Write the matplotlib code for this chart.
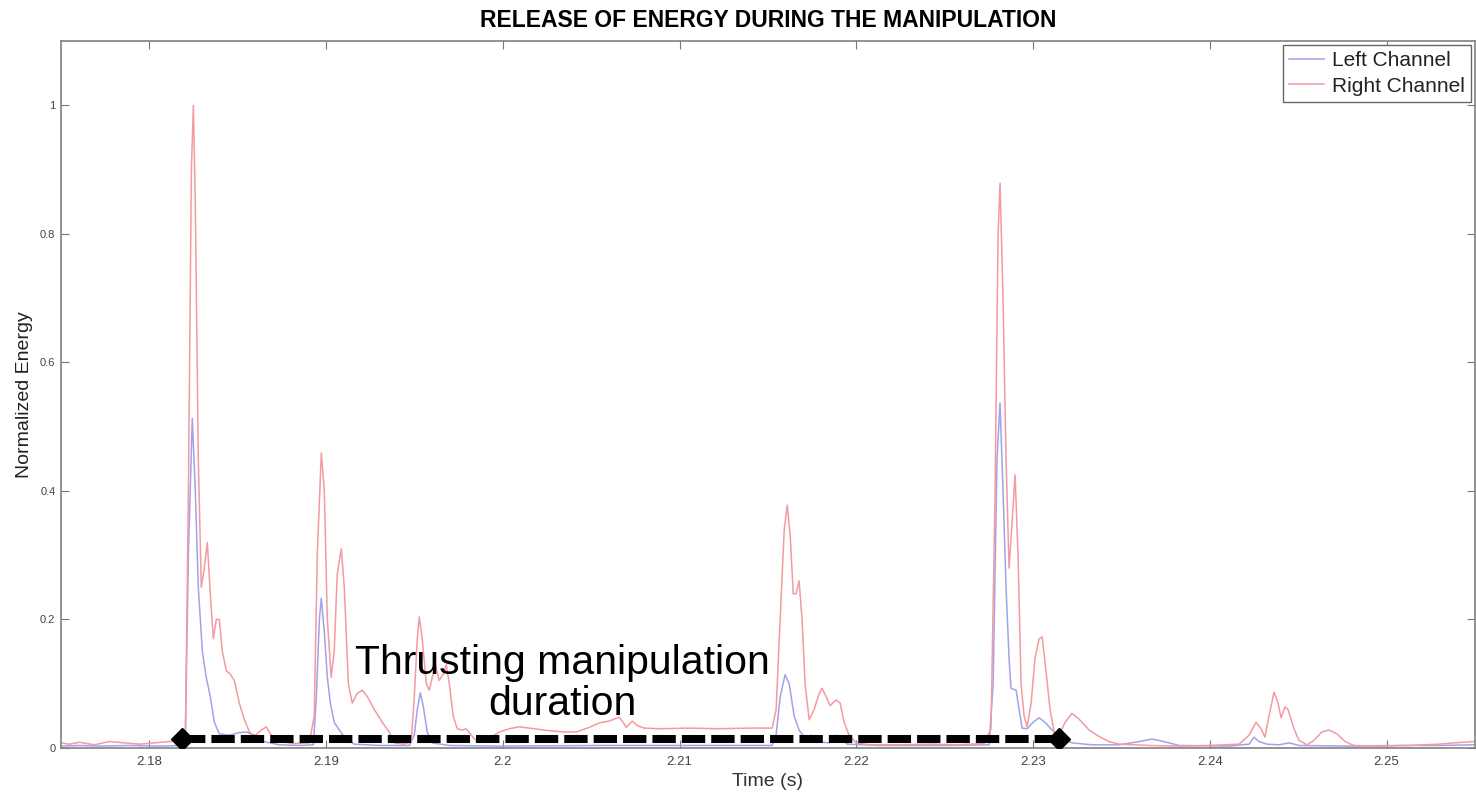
import numpy as np
import matplotlib
matplotlib.use("Agg")
import matplotlib.pyplot as plt

plt.rcParams['font.family'] = ['Liberation Sans', 'DejaVu Sans']

# Right channel (red)
right_t = [2.17497, 2.17548, 2.17604, 2.17689, 2.17774, 2.17859, 2.17943, 2.18028,
           2.18113, 2.18181, 2.18204, 2.18221, 2.18238, 2.18249, 2.18260, 2.18277,
           2.18294, 2.18311, 2.18328, 2.18345, 2.18362, 2.18379, 2.18396, 2.18413,
           2.18436, 2.18458, 2.18481, 2.18509, 2.18537, 2.18566, 2.18594, 2.18633,
           2.18662, 2.18690, 2.18735, 2.18820, 2.18905, 2.18933, 2.18950, 2.18973,
           2.18990, 2.19007, 2.19029, 2.19046, 2.19063, 2.19086, 2.19103, 2.19126,
           2.19148, 2.19176, 2.19205, 2.19233, 2.19273, 2.19318, 2.19357, 2.19386,
           2.19442, 2.19482, 2.19499, 2.19516, 2.19527, 2.19544, 2.19567, 2.19584,
           2.19601, 2.19618, 2.19640, 2.19663, 2.19680, 2.19697, 2.19719, 2.19742,
           2.19770, 2.19793, 2.19821, 2.19855, 2.19923, 2.19980, 2.20036, 2.20093,
           2.20178, 2.20262, 2.20347, 2.20415, 2.20489, 2.20545, 2.20602, 2.20658,
           2.20681, 2.20698, 2.20732, 2.20760, 2.20800, 2.20885, 2.21054, 2.21224,
           2.21394, 2.21524, 2.21546, 2.21569, 2.21592, 2.21609, 2.21626, 2.21643,
           2.21659, 2.21676, 2.21693, 2.21710, 2.21733, 2.21761, 2.21790, 2.21806,
           2.21829, 2.21852, 2.21886, 2.21908, 2.21931, 2.21959, 2.21999, 2.22072,
           2.22242, 2.22412, 2.22581, 2.22723, 2.22762, 2.22785, 2.22802, 2.22813,
           2.22830, 2.22847, 2.22864, 2.22881, 2.22898, 2.22915, 2.22932, 2.22949,
           2.22966, 2.22989, 2.23011, 2.23034, 2.23051, 2.23073, 2.23096, 2.23119,
           2.23147, 2.23181, 2.23220, 2.23260, 2.23317, 2.23373, 2.23430, 2.23486,
           2.23656, 2.23826, 2.23995, 2.24165, 2.24222, 2.24261, 2.24290, 2.24312,
           2.24335, 2.24363, 2.24386, 2.24403, 2.24425, 2.24442, 2.24476, 2.24504,
           2.24550, 2.24589, 2.24634, 2.24674, 2.24719, 2.24765, 2.24815, 2.24957,
           2.25127, 2.25296, 2.25381, 2.25494]
right_e = [0.008, 0.006, 0.009, 0.005, 0.010, 0.008, 0.006, 0.008,
           0.010, 0.012, 0.020, 0.400, 0.900, 1.000, 0.850, 0.450,
           0.250, 0.280, 0.320, 0.240, 0.170, 0.200, 0.200, 0.150,
           0.120, 0.115, 0.105, 0.070, 0.045, 0.025, 0.018, 0.028,
           0.033, 0.020, 0.010, 0.007, 0.008, 0.050, 0.300, 0.459,
           0.400, 0.200, 0.110, 0.150, 0.270, 0.310, 0.250, 0.100,
           0.070, 0.085, 0.090, 0.080, 0.060, 0.040, 0.025, 0.008,
           0.006, 0.010, 0.080, 0.170, 0.204, 0.170, 0.100, 0.090,
           0.110, 0.130, 0.105, 0.115, 0.130, 0.100, 0.050, 0.030,
           0.028, 0.030, 0.020, 0.010, 0.015, 0.025, 0.030, 0.033,
           0.030, 0.027, 0.025, 0.025, 0.032, 0.039, 0.042, 0.048,
           0.040, 0.032, 0.042, 0.035, 0.031, 0.030, 0.031, 0.030,
           0.031, 0.031, 0.060, 0.200, 0.340, 0.378, 0.330, 0.240,
           0.240, 0.260, 0.200, 0.100, 0.044, 0.060, 0.085, 0.093,
           0.080, 0.066, 0.075, 0.070, 0.040, 0.020, 0.008, 0.005,
           0.005, 0.006, 0.005, 0.007, 0.030, 0.400, 0.800, 0.879,
           0.700, 0.450, 0.280, 0.350, 0.425, 0.300, 0.100, 0.050,
           0.033, 0.070, 0.140, 0.170, 0.173, 0.120, 0.060, 0.025,
           0.020, 0.040, 0.054, 0.045, 0.028, 0.018, 0.010, 0.006,
           0.004, 0.003, 0.004, 0.006, 0.020, 0.040, 0.030, 0.017,
           0.050, 0.087, 0.070, 0.047, 0.064, 0.060, 0.030, 0.012,
           0.005, 0.012, 0.025, 0.028, 0.022, 0.010, 0.004, 0.003,
           0.004, 0.006, 0.008, 0.010]

# Left channel (blue)
left_t = [2.17497, 2.17604, 2.17717, 2.17887, 2.18057, 2.18187, 2.18204, 2.18221,
          2.18243, 2.18260, 2.18277, 2.18300, 2.18322, 2.18345, 2.18368, 2.18396,
          2.18452, 2.18509, 2.18549, 2.18594, 2.18650, 2.18735, 2.18848, 2.18928,
          2.18945, 2.18962, 2.18973, 2.18990, 2.19007, 2.19024, 2.19046, 2.19075,
          2.19109, 2.19159, 2.19301, 2.19471, 2.19499, 2.19516, 2.19533, 2.19550,
          2.19572, 2.19601, 2.19697, 2.19980, 2.20545, 2.21111, 2.21524, 2.21546,
          2.21569, 2.21597, 2.21620, 2.21648, 2.21676, 2.21710, 2.21744, 2.21778,
          2.21846, 2.21891, 2.21914, 2.21948, 2.22129, 2.22525, 2.22751, 2.22774,
          2.22796, 2.22813, 2.22830, 2.22847, 2.22864, 2.22875, 2.22904, 2.22921,
          2.22938, 2.22966, 2.23000, 2.23034, 2.23068, 2.23107, 2.23164, 2.23220,
          2.23333, 2.23486, 2.23599, 2.23673, 2.23741, 2.23826, 2.24108, 2.24222,
          2.24250, 2.24278, 2.24324, 2.24391, 2.24448, 2.24504, 2.24787, 2.25070,
          2.25296, 2.25494]
left_e = [0.003, 0.004, 0.003, 0.004, 0.003, 0.004, 0.020, 0.300,
          0.513, 0.400, 0.250, 0.150, 0.110, 0.080, 0.040, 0.022,
          0.020, 0.024, 0.025, 0.020, 0.010, 0.005, 0.004, 0.005,
          0.080, 0.200, 0.233, 0.180, 0.110, 0.070, 0.040, 0.028,
          0.015, 0.006, 0.004, 0.004, 0.020, 0.060, 0.086, 0.065,
          0.025, 0.008, 0.004, 0.003, 0.004, 0.004, 0.004, 0.020,
          0.080, 0.114, 0.100, 0.050, 0.028, 0.015, 0.020, 0.010,
          0.008, 0.020, 0.015, 0.006, 0.004, 0.004, 0.005, 0.100,
          0.450, 0.537, 0.400, 0.250, 0.140, 0.093, 0.090, 0.060,
          0.031, 0.030, 0.040, 0.047, 0.040, 0.028, 0.015, 0.008,
          0.005, 0.005, 0.010, 0.014, 0.010, 0.004, 0.003, 0.006,
          0.017, 0.010, 0.006, 0.005, 0.008, 0.004, 0.003, 0.004,
          0.004, 0.005]

# Thrusting manipulation duration marker
duration_t = [2.18182, 2.23147]
duration_e = [0.014, 0.014]

fig = plt.figure(figsize=(14.76, 7.94), dpi=100)
ax = fig.add_axes([0.0413, 0.0579, 0.958, 0.8904])

ax.plot(left_t, left_e, color='#a2a2ea', lw=1.1, label='Left Channel')
ax.plot(right_t, right_e, color='#f49aa0', lw=1.1, label='Right Channel')

ax.plot(duration_t, duration_e, color='black', lw=5.8, ls=(0, (2.9, 0.75)),
        marker='D', markersize=11, dash_capstyle='butt', zorder=5)

ax.text(2.20338, 0.101, 'Thrusting manipulation\nduration', fontsize=29.5,
        ha='center', va='center', linespacing=1.1)

ax.set_xlim(2.175, 2.255)
ax.set_ylim(0, 1.1)
ax.set_xticks([2.18, 2.19, 2.2, 2.21, 2.22, 2.23, 2.24, 2.25])
ax.set_xticklabels(['2.18', '2.19', '2.2', '2.21', '2.22', '2.23', '2.24', '2.25'])
ax.set_yticks([0, 0.2, 0.4, 0.6, 0.8, 1])
ax.set_yticklabels(['0', '0.2', '0.4', '0.6', '0.8', '1'])
ax.tick_params(direction='in', top=True, right=True, colors='#777777',
               labelcolor='#444444', length=6, width=0.8)
ax.tick_params(axis='x', labelsize=9.5, pad=6)
ax.tick_params(axis='y', labelsize=8, pad=4)
for s in ax.spines.values():
    s.set_color('#808080')
    s.set_linewidth(1.2)

ax.set_xlabel('Time (s)', fontsize=14, color='#333333', labelpad=3)
ax.set_ylabel('Normalized Energy', fontsize=14, color='#222222', labelpad=5)
ax.set_title('RELEASE OF ENERGY DURING THE MANIPULATION', fontsize=16.5,
             fontweight='bold', pad=10)

leg = ax.legend(loc='upper right', fontsize=15, handlelength=1.7,
                handletextpad=0.35, borderpad=0.3, labelspacing=0.3,
                fancybox=False, framealpha=1, borderaxespad=0.2)
leg.get_frame().set_edgecolor('#666666')
for txt in leg.get_texts():
    txt.set_color('#222222')

fig.savefig('out.png', dpi=100)
